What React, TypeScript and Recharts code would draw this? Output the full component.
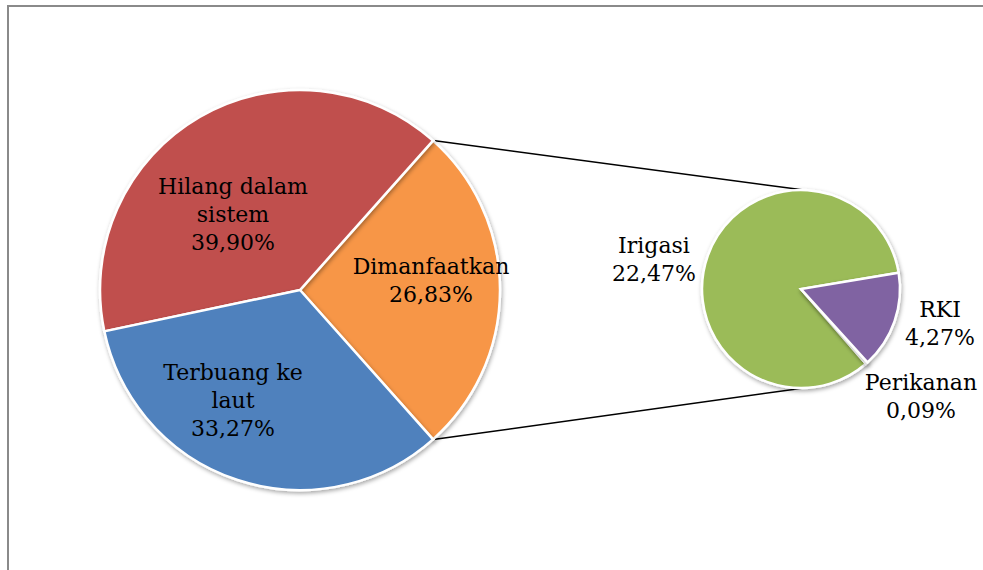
import React from 'react'
import { PieChart, Pie, Cell, Customized } from 'recharts';

// main pie (Dimanfaatkan is the part broken out into the small pie)
const mainNames = ['Dimanfaatkan', 'Hilang dalam sistem', 'Terbuang ke laut'];
const mainValues = [26.83, 39.90, 33.27];
const mainColors = ['#F79646', '#C0504D', '#4F81BD'];

// small pie, the parts of "Dimanfaatkan"
const subNames = ['Irigasi', 'Perikanan', 'RKI'];
const subValues = [22.47, 0.09, 4.27];
const subColors = ['#9BBB59', '#4BACC6', '#8064A2'];

const mainData = mainNames.map((name, i) => ({ name, value: mainValues[i] }));
const subData = subNames.map((name, i) => ({ name, value: subValues[i] }));

const MAIN = { cx: 300, cy: 290, r: 200 };
const SUB = { cx: 801, cy: 289, r: 99 };

const mainTotal = mainValues.reduce((a, b) => a + b, 0);
const mainStart = -(mainValues[0] / mainTotal) * 360 / 2;
const subStart = 9.5;

const fmt = (v: number) => v.toFixed(2).replace('.', ',') + '%';

// label text lines + where to put them (relative to pie centre)
const mainLabelLines: string[][] = [['Dimanfaatkan'], ['Hilang dalam', 'sistem'], ['Terbuang ke', 'laut']];
const mainLabelPos = [{ dx: 131, dy: -16 }, { dx: -67, dy: -96 }, { dx: -67, dy: 90 }];
const subLabelLines: string[][] = [['Irigasi'], ['Perikanan'], ['RKI']];
const subLabelPos = [{ dx: -147, dy: -36 }, { dx: 120, dy: 101 }, { dx: 139, dy: 28 }];

const FONT = '"DejaVu Serif", serif';

const labelText = (x: number, y: number, lines: string[], key: string) => (
  <text key={key} x={x} y={y} textAnchor="middle" fontFamily={FONT} fontSize={22} fill="#000">
    {lines.map((l, i) => (
      <tspan key={i} x={x} dy={i === 0 ? 0 : 28}>{l}</tspan>
    ))}
  </text>
);

const renderMainLabel = (props: any) => {
  const i = props.index;
  const p = mainLabelPos[i];
  return labelText(MAIN.cx + p.dx, MAIN.cy + p.dy, [...mainLabelLines[i], fmt(mainValues[i])], 'm' + i);
};

const renderSubLabel = (props: any) => {
  const i = props.index;
  const p = subLabelPos[i];
  return labelText(SUB.cx + p.dx, SUB.cy + p.dy, [...subLabelLines[i], fmt(subValues[i])], 's' + i);
};

const Connectors = () => {
  const rad = (mainStart * Math.PI) / 180;
  const x1 = MAIN.cx + MAIN.r * Math.cos(rad);
  const yTop = MAIN.cy - MAIN.r * Math.sin(-rad);
  const yBot = MAIN.cy + MAIN.r * Math.sin(-rad);
  return (
    <g>
      <line x1={x1 + 2} y1={yTop} x2={SUB.cx + 3} y2={SUB.cy - SUB.r} stroke="#000" strokeWidth={1.5} />
      <line x1={x1 + 2} y1={yBot} x2={SUB.cx + 3} y2={SUB.cy + SUB.r} stroke="#000" strokeWidth={1.5} />
    </g>
  );
};

const ShadowDefs = () => (
  <defs>
    <filter id="pieShadow" x="-10%" y="-10%" width="120%" height="120%">
      <feDropShadow dx="1" dy="2" stdDeviation="2" floodColor="#000" floodOpacity="0.35" />
    </filter>
  </defs>
);

const App = () => {
  return (
    <div style={{ position: 'absolute', left: 0, top: 0, width: 983, height: 570, background: '#fff', overflow: 'hidden' }}>
      <div style={{ position: 'absolute', left: 7, top: 5, width: 1000, height: 600, borderLeft: '2px solid #8a8a8a', borderTop: '2px solid #8a8a8a' }} />
      <PieChart width={983} height={570} margin={{ top: 0, right: 0, bottom: 0, left: 0 }} style={{ position: 'absolute', left: 0, top: 0 }}>
        <Customized component={ShadowDefs} />
        <Customized component={Connectors} />
        <Pie
          data={mainData}
          dataKey="value"
          nameKey="name"
          cx={MAIN.cx}
          cy={MAIN.cy}
          outerRadius={MAIN.r}
          startAngle={mainStart}
          endAngle={mainStart + 360}
          stroke="#fff"
          strokeWidth={2.5}
          label={renderMainLabel}
          labelLine={false}
          isAnimationActive={false}
          style={{ filter: 'url(#pieShadow)' }}
        >
          {mainData.map((d, i) => <Cell key={d.name} fill={mainColors[i]} />)}
        </Pie>
        <Pie
          data={subData}
          dataKey="value"
          nameKey="name"
          cx={SUB.cx}
          cy={SUB.cy}
          outerRadius={SUB.r}
          startAngle={subStart}
          endAngle={subStart + 360}
          stroke="#fff"
          strokeWidth={2.5}
          label={renderSubLabel}
          labelLine={false}
          isAnimationActive={false}
          style={{ filter: 'url(#pieShadow)' }}
        >
          {subData.map((d, i) => <Cell key={d.name} fill={subColors[i]} />)}
        </Pie>
      </PieChart>
    </div>
  );
}

export default App
